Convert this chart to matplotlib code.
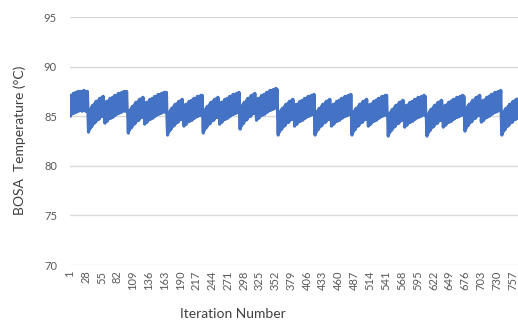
import numpy as np
import matplotlib
matplotlib.use("Agg")
import matplotlib.pyplot as plt

# =========================
# DATA
# =========================

# BOSA temperature per iteration, split at each big drop of the sawtooth
start_seg = [86.9, 85.0, 87.1, 85.2, 87.0, 85.3, 87.3, 85.3, 87.2, 85.5,
             87.4, 85.4, 87.3, 85.6, 87.5, 85.5, 87.4, 85.7, 87.5, 85.6,
             87.4, 85.5, 87.5, 85.6, 87.6, 85.7, 87.5, 85.5, 87.4, 85.6,
             87.5]

cycle_01 = [85.3, 83.4, 85.6, 83.7, 85.6, 83.9, 85.9, 84.0, 86.1, 84.3,
            86.0, 84.3, 86.3, 84.4, 86.5, 84.6, 86.4, 84.7, 86.6, 84.7,
            86.8, 84.9, 86.7, 85.0, 86.9, 85.0, 87.0, 85.1, 86.2, 84.3,
            86.3, 84.5, 86.5, 84.5, 86.4, 84.7, 86.6, 84.8, 86.8, 84.8,
            86.7, 85.0, 86.9, 84.9, 86.9, 85.1, 87.1, 85.1, 87.0, 85.2,
            87.1, 85.3, 87.3, 85.3, 87.2, 85.4, 87.3, 85.4, 87.4, 85.5,
            87.4, 85.6, 87.5, 85.5, 87.4, 85.6, 87.5, 85.6]

cycle_02 = [85.2, 83.3, 85.5, 83.6, 85.5, 83.8, 85.8, 83.9, 86.0, 84.2,
            85.9, 84.2, 86.2, 84.3, 86.4, 84.5, 86.3, 84.6, 86.5, 84.6,
            86.7, 84.8, 86.6, 84.9, 86.8, 84.9, 86.9, 85.0, 86.1, 84.2,
            86.2, 84.4, 86.4, 84.4, 86.3, 84.6, 86.5, 84.7, 86.7, 84.7,
            86.6, 84.9, 86.8, 84.8, 86.8, 85.0, 87.0, 85.0, 86.9, 85.1,
            87.0, 85.2, 87.2, 85.2, 87.1, 85.3, 87.2, 85.3, 87.3, 85.4,
            87.3, 85.5, 87.4, 85.4, 87.3, 85.5, 87.4]

cycle_03 = [85.0, 83.1, 85.3, 83.4, 85.3, 83.6, 85.6, 83.7, 85.8, 84.0,
            85.7, 84.0, 86.0, 84.1, 86.2, 84.3, 86.1, 84.4, 86.3, 84.4,
            86.5, 84.6, 86.4, 84.7, 86.6, 84.7, 86.7, 84.8, 85.9, 84.0,
            86.0, 84.2, 86.2, 84.2, 86.1, 84.4, 86.3, 84.5, 86.5, 84.5,
            86.4, 84.7, 86.6, 84.6, 86.6, 84.8, 86.8, 84.8, 86.7, 84.9,
            86.8, 85.0, 87.0, 85.0, 86.9, 85.1, 87.0, 85.1, 87.1, 85.2,
            87.1]

cycle_04 = [85.2, 83.3, 85.5, 83.6, 85.5, 83.8, 85.8, 83.9, 86.0, 84.2,
            85.9, 84.2, 86.2, 84.3, 86.4, 84.5, 86.3, 84.6, 86.5, 84.6,
            86.7, 84.8, 86.6, 84.9, 86.8, 84.9, 86.9, 85.0, 86.1, 84.2,
            86.2, 84.4, 86.4, 84.4, 86.3, 84.6, 86.5, 84.7, 86.7, 84.7,
            86.6, 84.9, 86.8, 84.8, 86.8, 85.0, 87.0, 85.0, 86.9, 85.1,
            87.0, 85.2, 87.2, 85.2, 87.1, 85.3, 87.2, 85.3, 87.3, 85.4,
            87.3, 85.5, 87.4]

cycle_05 = [85.6, 83.7, 85.9, 84.0, 85.9, 84.2, 86.2, 84.3, 86.4, 84.6,
            86.3, 84.6, 86.6, 84.7, 86.8, 84.9, 86.7, 85.0, 86.9, 85.0,
            87.1, 85.2, 87.0, 85.3, 87.2, 85.3, 87.3, 85.4, 86.5, 84.6,
            86.6, 84.8, 86.8, 84.8, 86.7, 85.0, 86.9, 85.1, 87.1, 85.1,
            87.0, 85.3, 87.2, 85.2, 87.2, 85.4, 87.4, 85.4, 87.3, 85.5,
            87.4, 85.6, 87.6, 85.6, 87.5, 85.7, 87.6, 85.7, 87.7, 85.8,
            87.7, 85.9, 87.8, 85.8, 87.7]

cycle_06 = [85.0, 83.1, 85.3, 83.4, 85.3, 83.6, 85.6, 83.7, 85.8, 84.0,
            85.7, 84.0, 86.0, 84.1, 86.2, 84.3, 86.1, 84.4, 86.3, 84.4,
            86.5, 84.6, 86.4, 84.7, 86.6, 84.7, 86.7, 84.8, 85.9, 84.0,
            86.0, 84.2, 86.2, 84.2, 86.1, 84.4, 86.3, 84.5, 86.5, 84.5,
            86.4, 84.7, 86.6, 84.6, 86.6, 84.8, 86.8, 84.8, 86.7, 84.9,
            86.8, 85.0, 87.0, 85.0, 86.9, 85.1, 87.0, 85.1, 87.1, 85.2,
            87.1, 85.3, 87.2]

cycle_07 = [85.0, 83.1, 85.3, 83.4, 85.3, 83.6, 85.6, 83.7, 85.8, 84.0,
            85.7, 84.0, 86.0, 84.1, 86.2, 84.3, 86.1, 84.4, 86.3, 84.4,
            86.5, 84.6, 86.4, 84.7, 86.6, 84.7, 86.7, 84.8, 85.9, 84.0,
            86.0, 84.2, 86.2, 84.2, 86.1, 84.4, 86.3, 84.5, 86.5, 84.5,
            86.4, 84.7, 86.6, 84.6, 86.6, 84.8, 86.8, 84.8, 86.7, 84.9,
            86.8, 85.0, 87.0, 85.0, 86.9, 85.1, 87.0, 85.1, 87.1, 85.2,
            87.1, 85.3, 87.2]

cycle_08 = [85.0, 83.1, 85.3, 83.4, 85.3, 83.6, 85.6, 83.7, 85.8, 84.0,
            85.7, 84.0, 86.0, 84.1, 86.2, 84.3, 86.1, 84.4, 86.3, 84.4,
            86.5, 84.6, 86.4, 84.7, 86.6, 84.7, 86.7, 84.8, 85.9, 84.0,
            86.0, 84.2, 86.2, 84.2, 86.1, 84.4, 86.3, 84.5, 86.5, 84.5,
            86.4, 84.7, 86.6, 84.6, 86.6, 84.8, 86.8, 84.8, 86.7, 84.9,
            86.8, 85.0, 87.0, 85.0, 86.9, 85.1, 87.0, 85.1, 87.1, 85.2,
            87.1, 85.3]

cycle_09 = [84.9, 83.0, 85.2, 83.3, 85.2, 83.5, 85.5, 83.6, 85.7, 83.9,
            85.6, 83.9, 85.9, 84.0, 86.1, 84.2, 86.0, 84.3, 86.2, 84.3,
            86.4, 84.5, 86.3, 84.6, 86.5, 84.6, 86.6, 84.7, 85.8, 83.9,
            85.9, 84.1, 86.1, 84.1, 86.0, 84.3, 86.2, 84.4, 86.4, 84.4,
            86.3, 84.6, 86.5, 84.5, 86.5, 84.7, 86.7, 84.7, 86.6, 84.8,
            86.7, 84.9, 86.9, 84.9, 86.8, 85.0, 86.9, 85.0, 87.0, 85.1,
            87.0, 85.2, 87.1, 85.1, 87.0, 85.2]

cycle_10 = [84.9, 83.0, 85.2, 83.3, 85.2, 83.5, 85.5, 83.6, 85.7, 83.9,
            85.6, 83.9, 85.9, 84.0, 86.1, 84.2, 86.0, 84.3, 86.2, 84.3,
            86.4, 84.5, 86.3, 84.6, 86.5, 84.6, 86.6, 84.7, 85.8, 83.9,
            85.9, 84.1, 86.1, 84.1, 86.0, 84.3, 86.2, 84.4, 86.4, 84.4,
            86.3, 84.6, 86.5, 84.5, 86.5, 84.7, 86.7, 84.7, 86.6, 84.8,
            86.7, 84.9, 86.9, 84.9, 86.8, 85.0, 86.9, 85.0, 87.0, 85.1,
            87.0, 85.2, 87.1, 85.1, 87.0]

cycle_11 = [85.4, 83.5, 85.7, 83.8, 85.7, 84.0, 86.0, 84.1, 86.2, 84.4,
            86.1, 84.4, 86.4, 84.5, 86.6, 84.7, 86.5, 84.8, 86.7, 84.8,
            86.9, 85.0, 86.8, 85.1, 87.0, 85.1, 87.1, 85.2, 86.3, 84.4,
            86.4, 84.6, 86.6, 84.6, 86.5, 84.8, 86.7, 84.9, 86.9, 84.9,
            86.8, 85.1, 87.0, 85.0, 87.0, 85.2, 87.2, 85.2, 87.1, 85.3,
            87.2, 85.4, 87.4, 85.4, 87.3, 85.5, 87.4, 85.5, 87.5, 85.6,
            87.5, 85.7, 87.6]

cycle_12 = [85.0, 83.1, 85.3, 83.4, 85.3, 83.6, 85.6, 83.7, 85.8, 84.0,
            85.7, 84.0, 86.0, 84.1, 86.2, 84.3, 86.1, 84.4, 86.3, 84.4,
            86.5, 84.6, 86.4, 84.7, 86.6, 84.7, 86.7, 84.8, 86.7]

bosa_temp = (start_seg + cycle_01 + cycle_02 + cycle_03 + cycle_04 + cycle_05
             + cycle_06 + cycle_07 + cycle_08 + cycle_09 + cycle_10
             + cycle_11 + cycle_12)
iteration = np.arange(1, len(bosa_temp) + 1)

x_tick_labels = [1, 28, 55, 82, 109, 136, 163, 190, 217, 244, 271, 298, 325,
                 352, 379, 406, 433, 460, 487, 514, 541, 568, 595, 622, 649,
                 676, 703, 730, 757]
y_ticks = [70, 75, 80, 85, 90, 95]

# =========================
# PLOT
# =========================

plt.rcParams['font.family'] = ['Lato', 'DejaVu Sans']

W, H = 518, 327
fig = plt.figure(figsize=(W / 100, H / 100), dpi=100)
ax = fig.add_axes([69.5 / W, 1 - 265 / H, (W - 69.5) / W, (265 - 17) / H])

ax.plot(iteration, bosa_temp, color='#4472C4', lw=2.3)

ax.set_xlim(0.5, len(bosa_temp) + 0.5)
ax.set_ylim(70, 95)
ax.set_yticks(y_ticks)
ax.set_xticks(x_tick_labels)
ax.set_xticklabels([str(v) for v in x_tick_labels], rotation=90)

ax.grid(axis='y', color='#D9D9D9', lw=1)
ax.set_axisbelow(True)
for s in ax.spines.values():
    s.set_visible(False)
ax.tick_params(axis='both', length=0, colors='#595959', labelsize=8)
ax.tick_params(axis='y', pad=9)
ax.tick_params(axis='x', pad=4)

fig.text(20 / W, 1 - 140 / H, 'BOSA  Temperature (°C)', rotation=90,
         ha='center', va='center', fontsize=10, color='#404040')
fig.text(233 / W, 1 - 314 / H, 'Iteration Number',
         ha='center', va='center', fontsize=10, color='#404040')

fig.savefig('out.png', dpi=100)
